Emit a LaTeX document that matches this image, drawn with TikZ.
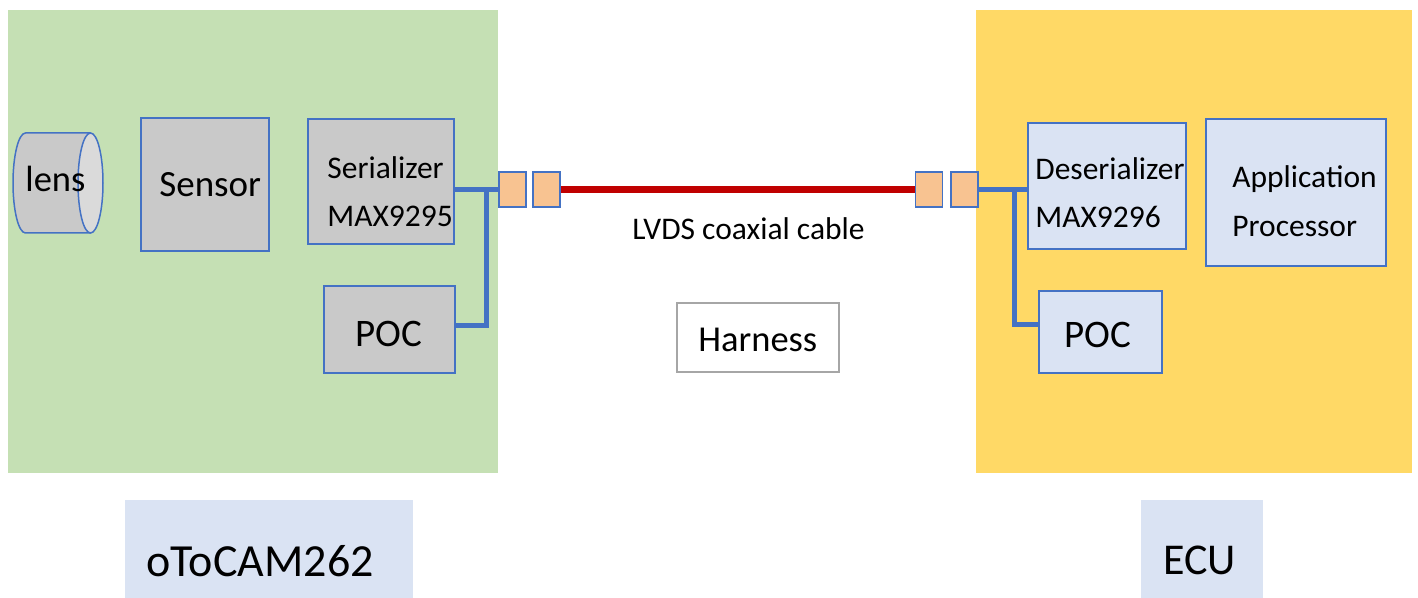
\documentclass[tikz,border=0pt]{standalone}
\usepackage{fontspec}
\setmainfont{Carlito}

\definecolor{greenbg}{HTML}{C5E0B4}
\definecolor{yellowbg}{HTML}{FFD966}
\definecolor{boxgray}{HTML}{C9C9C9}
\definecolor{lensend}{HTML}{DADADA}
\definecolor{boxblue}{HTML}{4472C4}
\definecolor{lightblue}{HTML}{DAE3F3}
\definecolor{plugorange}{HTML}{F8C391}
\definecolor{cablered}{HTML}{C00000}
\definecolor{harnessgray}{HTML}{A6A6A6}

\def\px{0.5pt}
\newcommand\fsz[1]{\fontsize{#1}{#1}\selectfont}

\begin{document}
\begin{tikzpicture}[x=\px, y=-\px,
    box/.style={draw=boxblue, line width=0.75pt, inner sep=0pt},
    graybox/.style={box, fill=boxgray},
    bluebox/.style={box, fill=lightblue},
    plug/.style={box, fill=plugorange, minimum width=13.5pt, minimum height=17.5pt},
    tag/.style={fill=lightblue, inner sep=0pt, minimum height=49pt},
    wire/.style={draw=boxblue, line width=2.5pt},
    cable/.style={draw=cablered, line width=3.75pt},
    txt/.style={anchor=base west, inner sep=0pt}]
      \useasboundingbox (0,0) rectangle (1418,598);
      \fill[greenbg] (8,10) rectangle (498,473);
      \fill[yellowbg] (976,10) rectangle (1412,473);

      \filldraw[fill=boxgray, draw=boxblue, line width=0.75pt]
        (90.5,133) -- (25.5,133) arc[start angle=90, end angle=270, x radius=6.25pt, y radius=25pt] -- (90.5,233);
      \filldraw[fill=lensend, draw=boxblue, line width=0.75pt]
        (90.5,183) ellipse[x radius=6.25pt, y radius=25pt];

      \node[graybox, minimum width=64pt, minimum height=66.5pt] (sensor) at (205,184.5) {};
      \node[graybox, minimum width=73pt, minimum height=62.5pt] (ser) at (381,181.5) {};
      \node[graybox, minimum width=65.5pt, minimum height=43.5pt] (pocl) at (389.5,329.5) {};
      \node[plug] (plug1) at (512.5,189.5) {};
      \node[plug] (plug2) at (546.5,189.5) {};
      \node[plug] (plug3) at (929,189.5) {};
      \node[plug] (plug4) at (964.5,189.5) {};
      \node[bluebox, minimum width=79pt, minimum height=63pt] (deser) at (1107,186) {};
      \node[bluebox, minimum width=90pt, minimum height=73.5pt] (app) at (1296,192.5) {};
      \node[bluebox, minimum width=61.5pt, minimum height=41pt] (pocr) at (1100.5,332) {};
      \node[draw=harnessgray, line width=0.75pt, fill=white, inner sep=0pt,
            minimum width=81pt, minimum height=34.5pt] (harness) at (758,337.5) {};
      \node[tag, minimum width=144pt] (camtag) at (269,549) {};
      \node[tag, minimum width=61pt] (ecutag) at (1202,549) {};

      \coordinate (jl) at (486,189.5);
      \coordinate (jr) at (1014,189.5);
      \draw[wire] (plug1.west -| ser.east) -- (plug1.west);
      \draw[wire] (jl) |- ([yshift=2pt]pocl.east);
      \draw[wire] (plug4.east) -- (plug4.east -| deser.west);
      \draw[wire] (jr) |- ([yshift=3.5pt]pocr.west);
      \draw[cable] (plug2.east) -- (plug3.west);

      \node[txt, font=\fsz{18.25pt}] (lenstxt) at (25,192) {lens};
      \node[txt, font=\fsz{18.5pt}] (sensortxt) at (159,197) {Sensor};
      \node[txt, font=\fsz{15.75pt}] (sertxt) at (327,179) {Serializer};
      \node[txt, font=\fsz{15.75pt}] (serpart) at (327,227) {MAX9295};
      \node[txt, font=\fsz{19.5pt}] (pocltxt) at (355,347) {POC};
      \node[txt, font=\fsz{15.75pt}] (cabletxt) at (632,240) {LVDS coaxial cable};
      \node[txt, font=\fsz{18.25pt}] (harnesstxt) at (698,352) {Harness};
      \node[txt, font=\fsz{15.75pt}] (desertxt) at (1035,180) {Deserializer};
      \node[txt, font=\fsz{15.75pt}] (deserpart) at (1035,228) {MAX9296};
      \node[txt, font=\fsz{15.75pt}] (apptxt) at (1232,188) {Application};
      \node[txt, font=\fsz{15.75pt}] (proctxt) at (1232,237) {Processor};
      \node[txt, font=\fsz{19.5pt}] (pocrtxt) at (1064,348) {POC};
      \node[txt, font=\fsz{23pt}] (camtxt) at (146,576) {oToCAM262};
      \node[txt, font=\fsz{22pt}] (ecutxt) at (1163,574) {ECU};
    \end{tikzpicture}
\end{document}
